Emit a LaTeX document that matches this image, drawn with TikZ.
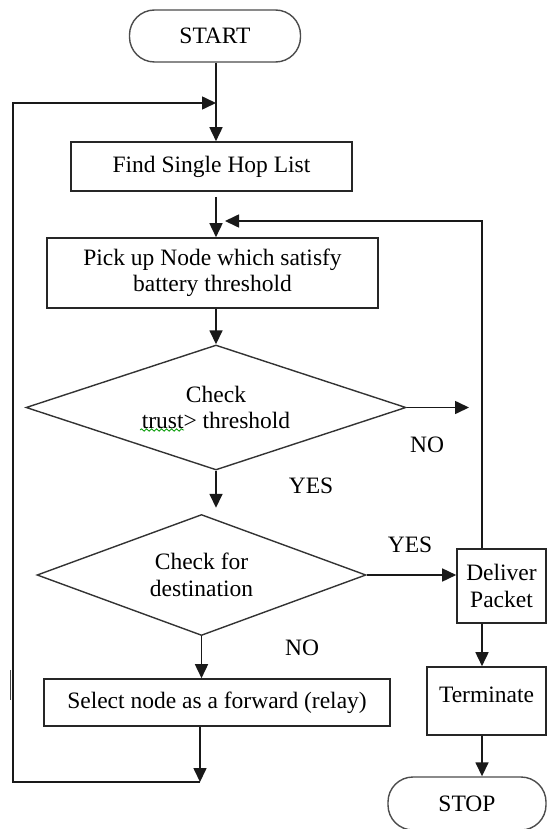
\documentclass[tikz,border=0pt]{standalone}
\usepackage{fontspec}
\setmainfont{Liberation Serif}
\usetikzlibrary{arrows.meta,shapes.geometric,decorations.pathmorphing}
\begin{document}
\begin{tikzpicture}[x=1pt,y=-1pt,
  every node/.style={font=\fontsize{23.5}{26.5}\selectfont, inner sep=0pt, align=center},
  box/.style={draw=black!85, line width=1.6pt, rectangle},
  term/.style={draw=black!70, line width=1.4pt, rectangle, rounded corners=25pt},
  decision/.style={draw=black!80, line width=1.4pt, diamond},
  arr/.style={draw=black!90, line width=1.6pt, -{Triangle[length=14pt,width=13pt]}},
  link/.style={draw=black!90, line width=1.6pt}]

\useasboundingbox (0,0) rectangle (547,829);

% process steps
\node[term, minimum width=171pt, minimum height=52pt] (start) at (215,36) {START};
\node[box, minimum width=281pt, minimum height=49pt] (find) at (211.5,166.5) {Find Single Hop List};
\node[box, minimum width=331pt, minimum height=70pt] (pick) at (212.5,273) {Pick up Node which satisfy\\battery threshold};
\node[decision, aspect=3.04, minimum width=380pt, minimum height=125pt] (chk1) at (216,407.5) {Check\\trust> threshold};
\node[decision, aspect=2.72, minimum width=329pt, minimum height=121pt] (chk2) at (201.5,575) {Check for\\destination};
\node[box, minimum width=346pt, minimum height=47pt] (sel) at (217,702.5) {Select node as a forward (relay)};
\node[box, minimum width=89pt, minimum height=74pt] (dlv) at (501.5,586) {Deliver\\Packet};
\node[box, minimum width=119pt, minimum height=68pt, text height=16pt, text depth=13pt] (trm) at (486.5,701) {Terminate};
\node[term, minimum width=158pt, minimum height=53pt] (stop) at (467,803.5) {STOP};

% branch labels
\node (no1) at (427,445) {NO};
\node (yes1) at (311,486) {YES};
\node (yes2) at (410,545) {YES};
\node (no2) at (302,648) {NO};

% spell-check squiggle under "trust"
\draw[green!60!black, line width=0.8pt, decorate,
      decoration={snake, amplitude=1.2pt, segment length=5pt}] (140,430) -- (184,430);

% routing points
\coordinate (trunk) at (216,0);
\coordinate (ltop) at (13,103);
\coordinate (lbot) at (200,782);
\coordinate (rtop) at (482,221);
\coordinate (rin) at (225,221);
\coordinate (noend) at (469,407.5);
\coordinate (fo) at ([yshift=-5pt]find.south);
\coordinate (c2top) at ([yshift=6pt]chk2.north);

% connectors
\draw[arr] (start.south -| trunk) -- (find.north -| trunk);
\draw[arr] (lbot) -| (ltop) -- (ltop -| trunk);
\draw[arr] (fo -| trunk) -- (pick.north -| trunk);
\draw[arr] (dlv.north -| rtop) -- (rtop) -- (rin);
\draw[arr] (pick.south -| trunk) -- (chk1.north);
\draw[arr] (chk1.east) -- (noend);
\draw[arr] (chk1.south) -- (chk1.south |- c2top);
\draw[arr] (chk2.east) -- (chk2.east -| dlv.west);
\draw[arr] (chk2.south) -- (chk2.south |- sel.north);
\draw[arr] (sel.south -| lbot) -- (lbot);
\draw[arr] (dlv.south -| rtop) -- (trm.north -| rtop);
\draw[arr] (trm.south -| rtop) -- (stop.north -| rtop);

% small offset piece on the left return line
\draw[black!70, line width=1.4pt] (10.5,670) -- (10.5,700);
\end{tikzpicture}
\end{document}
